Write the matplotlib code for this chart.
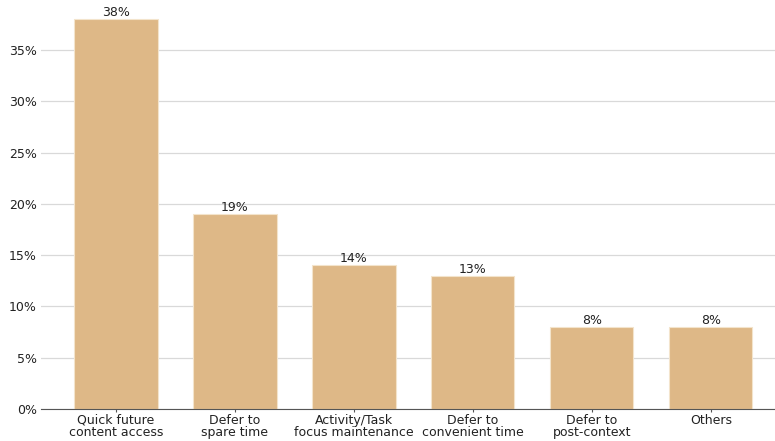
import matplotlib
matplotlib.use("Agg")
import matplotlib.pyplot as plt
from matplotlib.ticker import PercentFormatter

categories = ["Quick future\ncontent access", "Defer to\nspare time", "Activity/Task\nfocus maintenance",
              "Defer to\nconvenient time", "Defer to\npost-context", "Others"]
shares = [38, 19, 14, 13, 8, 8]

fig = plt.figure(figsize=(7.75, 4.41), dpi=100)
ax = fig.add_axes([41 / 775, 32 / 441, 1 - 41 / 775, 1 - 32 / 441])

x = list(range(len(categories)))
bars = ax.bar(x, shares, width=0.7, color="#DEB887", edgecolor="#f3e4cc", linewidth=0.8, zorder=2)
for b, v in zip(bars, shares):
    ax.text(b.get_x() + b.get_width() / 2, v, f"{v}%", ha="center", va="bottom", fontsize=9, color="#222222")

ax.set_xlim(-0.63, 5.54)
ax.set_ylim(0, 39.9)
ax.set_yticks([0, 5, 10, 15, 20, 25, 30, 35])
ax.yaxis.set_major_formatter(PercentFormatter(decimals=0))
ax.set_xticks(x)
ax.set_xticklabels(categories, fontsize=9, color="#222222", linespacing=0.95)
ax.tick_params(axis="y", labelsize=9, colors="#222222", length=0, pad=3)
ax.tick_params(axis="x", length=2.5, color="#555555", pad=1)
ax.grid(axis="y", color="#d9d9d9", linewidth=0.9, zorder=0)
ax.set_axisbelow(True)
for s in ["top", "right", "left"]:
    ax.spines[s].set_visible(False)
ax.spines["bottom"].set_color("#555555")

fig.savefig("out.png", dpi=100)
